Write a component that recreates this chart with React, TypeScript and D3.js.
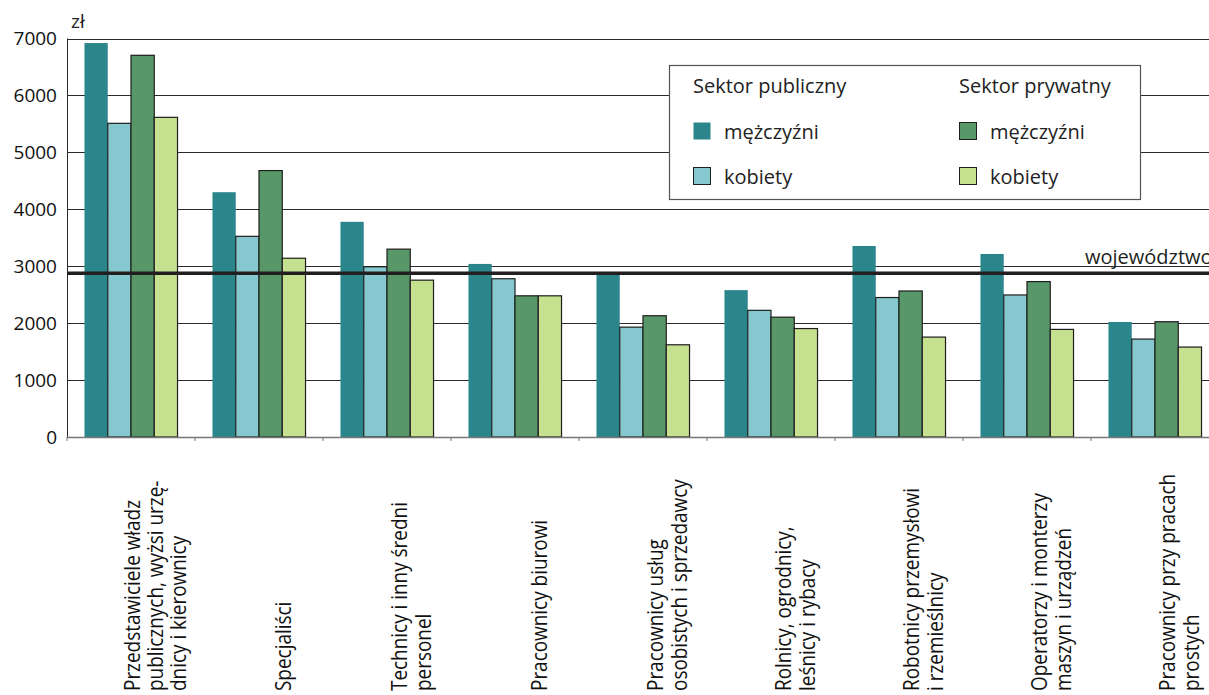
import { scaleBand, scaleLinear } from "d3";

const categories = [
  ["Przedstawiciele władz", "publicznych, wyżsi urzę-", "dnicy i kierownicy"],
  ["Specjaliści"],
  ["Technicy i inny średni", "personel"],
  ["Pracownicy biurowi"],
  ["Pracownicy usług", "osobistych i sprzedawcy"],
  ["Rolnicy, ogrodnicy,", "leśnicy i rybacy"],
  ["Robotnicy przemysłowi", "i rzemieślnicy"],
  ["Operatorzy i monterzy", "maszyn i urządzeń"],
  ["Pracownicy przy pracach", "prostych"],
];

const publicMen = [6920, 4300, 3780, 3040, 2850, 2580, 3355, 3215, 2020];
const publicWomen = [5510, 3525, 2990, 2780, 1930, 2225, 2450, 2495, 1720];
const privateMen = [6705, 4680, 3300, 2480, 2130, 2105, 2565, 2730, 2025];
const privateWomen = [5615, 3140, 2755, 2480, 1620, 1905, 1755, 1890, 1580];

const voivodeship = 2875;
const yTicks = [0, 1000, 2000, 3000, 4000, 5000, 6000, 7000];

const series = [
  { key: "pm", values: publicMen, color: "#2b868c", stroke: "none" },
  { key: "pw", values: publicWomen, color: "#85c8cf", stroke: "#1e1e1e" },
  { key: "prm", values: privateMen, color: "#589868", stroke: "#1e1e1e" },
  { key: "prw", values: privateWomen, color: "#c5e08e", stroke: "#1e1e1e" },
];

const W = 1209;
const H = 695;
const left = 67;
const top = 38.5;
const bottom = 437;
const font = "'Open Sans', sans-serif";

export default function App() {
  const names = categories.map((c) => c.join(" "));
  const x0 = scaleBand()
    .domain(names)
    .range([left, left + 9 * 128])
    .paddingInner(0.273)
    .paddingOuter(0.1365);
  const x1 = scaleBand()
    .domain(series.map((s) => s.key))
    .range([0, x0.bandwidth()]);
  const y = scaleLinear([0, 7000], [bottom, top]);
  const gap = (x0.step() - x0.bandwidth()) / 2;

  return (
    <div style={{ position: "absolute", left: 0, top: 0 }}>
      <svg width={W} height={H} style={{ display: "block", background: "#fff" }}>
        {/* grid */}
        {yTicks.slice(1).map((t) => (
          <line key={t} x1={left} x2={W} y1={Math.round(y(t)) + 0.5} y2={Math.round(y(t)) + 0.5} stroke="#2a2a2a" strokeWidth={1} />
        ))}
        {/* bars */}
        {names.map((n, i) => (
          <g key={n} transform={`translate(${x0(n)},0)`}>
            {series.map((s) => (
              <rect
                key={s.key}
                x={x1(s.key)}
                y={y(s.values[i])}
                width={x1.bandwidth()}
                height={bottom - y(s.values[i])}
                fill={s.color}
                stroke={s.stroke}
                strokeWidth={1.2}
              />
            ))}
          </g>
        ))}
        {/* axes */}
        <line x1={left + 0.5} x2={left + 0.5} y1={top} y2={bottom} stroke="#2a2a2a" />
        <line x1={left} x2={W} y1={bottom + 0.5} y2={bottom + 0.5} stroke="#777" strokeWidth={1.5} />
        {names.map((n) => (
          <line key={n} x1={(x0(n) as number) - gap} x2={(x0(n) as number) - gap} y1={bottom} y2={bottom + 4} stroke="#777" />
        ))}
        {yTicks.map((t) => (
          <text key={t} x={57} y={y(t)} dy="0.35em" textAnchor="end" fontFamily={font} fontSize={19} fill="#111">
            {t}
          </text>
        ))}
        <text x={71} y={28} fontFamily={font} fontSize={19} fill="#222">
          zł
        </text>
        {/* voivodeship average */}
        <line x1={left} x2={W} y1={y(voivodeship)} y2={y(voivodeship)} stroke="#231f20" strokeWidth={3.5} />
        <text x={1085} y={y(voivodeship) - 9} fontFamily={font} fontSize={20} fill="#231f20">
          województwo
        </text>
        {/* category labels */}
        {categories.map((lines, i) => {
          const cx = (x0(names[i]) as number) + x0.bandwidth() / 2;
          return (
            <g key={names[i]} transform={`translate(${cx},691) rotate(-90) scale(0.88,1)`}>
              {lines.map((l, k) => (
                <text key={k} x={0} y={32 + (k - (lines.length - 1) / 2) * 23.5} fontFamily={font} fontSize={21.5} fill="#111">
                  {l}
                </text>
              ))}
            </g>
          );
        })}
        {/* legend */}
        <g>
          <rect x={669.5} y={65.5} width={471} height={134} fill="#fff" stroke="#555" strokeWidth={1.2} />
          <text x={693} y={93} fontFamily={font} fontSize={20} fill="#222">Sektor publiczny</text>
          <text x={959} y={93} fontFamily={font} fontSize={20} fill="#222">Sektor prywatny</text>
          {series.map((s, i) => {
            const col = i < 2 ? 0 : 1;
            const row = i % 2;
            const sx = col === 0 ? 693 : 959;
            const sy = row === 0 ? 122 : 167;
            return (
              <g key={s.key}>
                <rect x={sx + 0.5} y={sy + 0.5} width={17} height={17} fill={s.color} stroke={s.stroke} />
                <text x={sx + 31} y={sy + 17} fontFamily={font} fontSize={20} fill="#222">
                  {row === 0 ? "mężczyźni" : "kobiety"}
                </text>
              </g>
            );
          })}
        </g>
      </svg>
    </div>
  );
}
